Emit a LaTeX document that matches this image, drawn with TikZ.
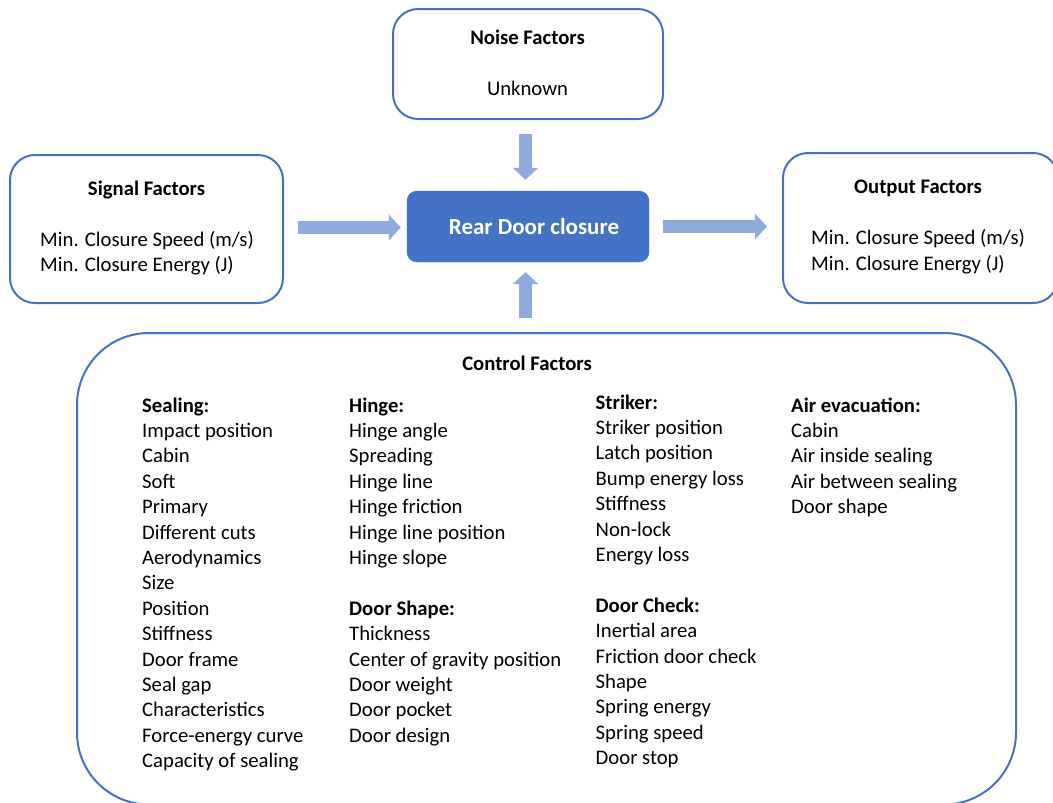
\documentclass[tikz,border=0pt]{standalone}
\usepackage{fontspec}
\setmainfont{Carlito}
\usetikzlibrary{arrows.meta,calc}
\definecolor{boxblue}{HTML}{4472C4}
\definecolor{arrowblue}{HTML}{8FAADC}

\begin{document}
\begin{tikzpicture}[x=1pt, y=-1pt, font=\fontsize{20.7}{25.4}\selectfont,
	frame/.style={draw=boxblue, line width=2pt, rounded corners=25pt, inner sep=0pt},
	head/.style={anchor=base, inner sep=0pt, font=\fontsize{20.7}{25.4}\selectfont\bfseries},
	colhead/.style={anchor=base west, inner sep=0pt, font=\fontsize{20.7}{25.4}\selectfont\bfseries},
	item/.style={anchor=base west, inner sep=0pt},
	flow/.style={draw=arrowblue, line width=13pt, -{Triangle[length=12pt,width=25pt]}}]
	\clip (0,0) rectangle (1053,803);
	% boxes
	\node[frame, minimum width=270pt, minimum height=110pt] (noise) at (528,64) {};
	\node[frame, minimum width=273pt, minimum height=148pt] (signal) at (146.5,229) {};
	\node[frame, minimum width=275pt, minimum height=150pt] (output) at (920.5,228) {};
	\node[frame, rounded corners=72pt, minimum width=939pt, minimum height=471.5pt] (control) at (546.5,568.75) {};
	\node[fill=boxblue, draw=boxblue, rounded corners=10pt, minimum width=242pt, minimum height=71pt,
		text=white, font=\fontsize{23}{28}\selectfont\bfseries] (door) at (528,226.5) {\hspace{12pt}Rear Door closure};
	% arrows
	\draw[flow] ($(noise.south)+(-2.5,14)$) -- ($(door.north)+(-2.5,-11)$);
	\draw[flow] ($(door.south |- control.north)+(-2.5,-14)$) -- ($(door.south)+(-2.5,10)$);
	\draw[flow] ($(signal.east |- door.west)+(14,1)$) -- ($(door.west)+(-6,1)$);
	\draw[flow] ($(door.east)+(14,0)$) -- ($(output.west |- door.east)+(-15,0)$);
	% box texts
	\node[head] (noisetitle) at (527.5,45) {Noise Factors};
	\node[anchor=base, inner sep=0pt] (unknown) at (527.5,95) {Unknown};
	\node[head] (signaltitle) at (146.5,195) {Signal Factors};
	\node[item] (signalspeed) at (40,246) {Min. Closure Speed (m/s)};
	\node[item] (signalenergy) at (40,271.5) {Min. Closure Energy (J)};
	\node[head] (outputtitle) at (918,193) {Output Factors};
	\node[item] (outputspeed) at (811,244) {Min. Closure Speed (m/s)};
	\node[item] (outputenergy) at (811,270) {Min. Closure Energy (J)};
	\node[head] (controltitle) at (527,370) {Control Factors};
	% control factor columns
	\node[colhead] (sealing) at (142,412) {Sealing:};
	\foreach \t [count=\k] in {Impact position, Cabin, Soft, Primary, Different cuts, Aerodynamics, Size,
		Position, Stiffness, Door frame, Seal gap, Characteristics, Force-energy curve, Capacity of sealing}
	\node[item] (seal\k) at (142,{412+25.4*\k}) {\t};
	\node[colhead] (hinge) at (349,412) {Hinge:};
	\foreach \t [count=\k] in {Hinge angle, Spreading, Hinge line, Hinge friction, Hinge line position, Hinge slope}
	\node[item] (hinge\k) at (349,{412+25.4*\k}) {\t};
	\node[colhead] (doorshape) at (349,615.2) {Door Shape:};
	\foreach \t [count=\k] in {Thickness, Center of gravity position, Door weight, Door pocket, Door design}
	\node[item] (shape\k) at (349,{615.2+25.4*\k}) {\t};
	\node[colhead] (striker) at (595.5,409) {Striker:};
	\foreach \t [count=\k] in {Striker position, Latch position, Bump energy loss, Stiffness, Non-lock, Energy loss}
	\node[item] (striker\k) at (595.5,{409+25.4*\k}) {\t};
	\node[colhead] (doorcheck) at (595.5,612.2) {Door Check:};
	\foreach \t [count=\k] in {Inertial area, Friction door check, Shape, Spring energy, Spring speed, Door stop}
	\node[item] (check\k) at (595.5,{612.2+25.4*\k}) {\t};
	\node[colhead] (air) at (791,412) {Air evacuation:};
	\foreach \t [count=\k] in {Cabin, Air inside sealing, Air between sealing, Door shape}
	\node[item] (air\k) at (791,{412+25.4*\k}) {\t};
\end{tikzpicture}
\end{document}
